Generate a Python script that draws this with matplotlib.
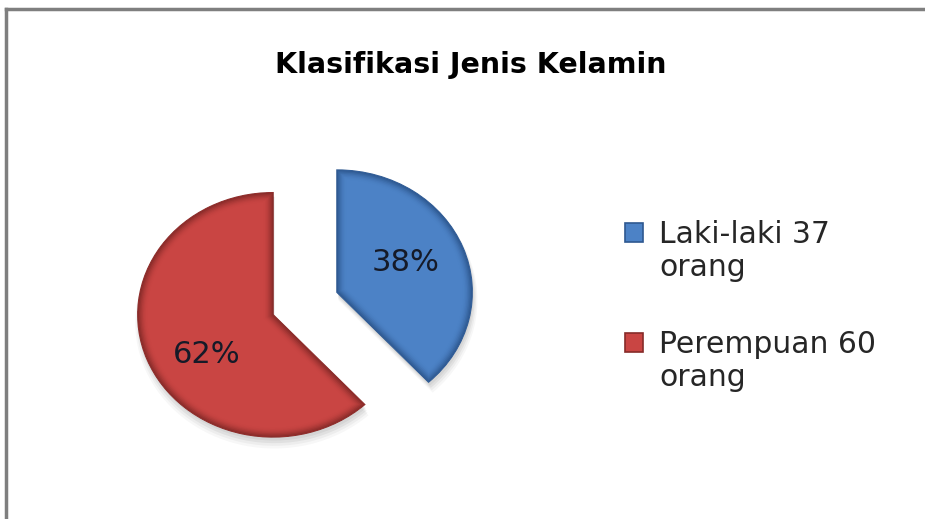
import matplotlib
matplotlib.use("Agg")
import matplotlib.pyplot as plt
import numpy as np
from matplotlib.lines import Line2D
from matplotlib.patches import Rectangle, Wedge
from matplotlib.colors import to_rgb
from matplotlib.transforms import offset_copy

title = "Klasifikasi Jenis Kelamin"
categories = ["Laki-laki 37\norang", "Perempuan 60\norang"]
values = [37, 60]
colors = ["#4C82C6", "#C94543"]
edge_colors = ["#2E5890", "#862B29"]

W, H = 925, 519
FONT = "DejaVu Sans"
fig = plt.figure(figsize=(W / 100, H / 100), dpi=100)
ax = fig.add_axes([0, 0, 1, 1])

wedges, texts, autotexts = ax.pie(
    values, colors=colors, startangle=90, counterclock=False,
    explode=[0.255, 0.255], autopct="%1.0f%%", pctdistance=0.57,
    wedgeprops=dict(linewidth=1.2),
    textprops=dict(fontsize=22, family=FONT, color="#151a28"))
for w, ec in zip(wedges, edge_colors):
    w.set_edgecolor(ec)

# soft shadow and bevel shading built from each wedge's own geometry
for w, col, ec in zip(wedges, colors, edge_colors):
    w.set_zorder(2)
    for k, a in enumerate([0.05, 0.05, 0.04, 0.03]):
        sh = Wedge((w.center[0] + 0.01, w.center[1] - 0.03 - 0.012 * k), w.r + 0.01 * k,
                   w.theta1, w.theta2, facecolor="#000000", edgecolor="none",
                   alpha=a, zorder=1)
        ax.add_patch(sh)
    c0 = np.array(to_rgb(col))
    c1 = np.array(to_rgb(ec))
    n = 8
    for i in range(n):
        t = i / (n - 1)
        lw = 14 * (1 - t) + 1.2
        cc = c0 + (c1 - c0) * (t ** 1.5)
        ring = Wedge(w.center, w.r, w.theta1, w.theta2, facecolor="none",
                     edgecolor=cc, linewidth=lw, alpha=0.3 + 0.6 * t, zorder=3)
        ax.add_patch(ring)
        ring.set_clip_path(w)

# small label nudges (pixels) to match the reference placement
nudges = [(-3, 4), (5, -14)]
for t, (dx, dy) in zip(autotexts, nudges):
    t.set_zorder(5)
    t.set_transform(offset_copy(t.get_transform(), fig=fig, x=dx, y=dy, units="dots"))

ax.set_aspect("auto")
cx, cy, rx, ry = 305, 303.5, 135, 122
ax.set_xlim(-cx / rx, (W - cx) / rx)
ax.set_ylim((cy - H) / ry, cy / ry)
ax.axis("off")

fig.text(471 / W, 1 - 73 / H, title, ha="center", va="baseline",
         fontsize=20.5, fontweight="bold", family=FONT, color="#000000")

# legend
leg_x = 659 / W
first_baselines = [243, 353]
line_gap = 33
for lab, col, ec, yb in zip(categories, colors, edge_colors, first_baselines):
    fig.add_artist(Rectangle((625 / W, 1 - (yb - 1) / H), 18 / W, 19 / H,
                             transform=fig.transFigure, facecolor=col,
                             edgecolor=ec, linewidth=1.2))
    for j, line in enumerate(lab.split("\n")):
        fig.text(leg_x, 1 - (yb + j * line_gap) / H, line, ha="left",
                 va="baseline", fontsize=21.5, family=FONT, color="#262626")

# outer border lines
fig.add_artist(Line2D([6 / W, 1], [1 - 9 / H, 1 - 9 / H],
                      transform=fig.transFigure, color="#7f7f7f", lw=2.5))
fig.add_artist(Line2D([6 / W, 6 / W], [0, 1 - 9 / H],
                      transform=fig.transFigure, color="#7f7f7f", lw=2.5))

fig.savefig("out.png", dpi=100)
